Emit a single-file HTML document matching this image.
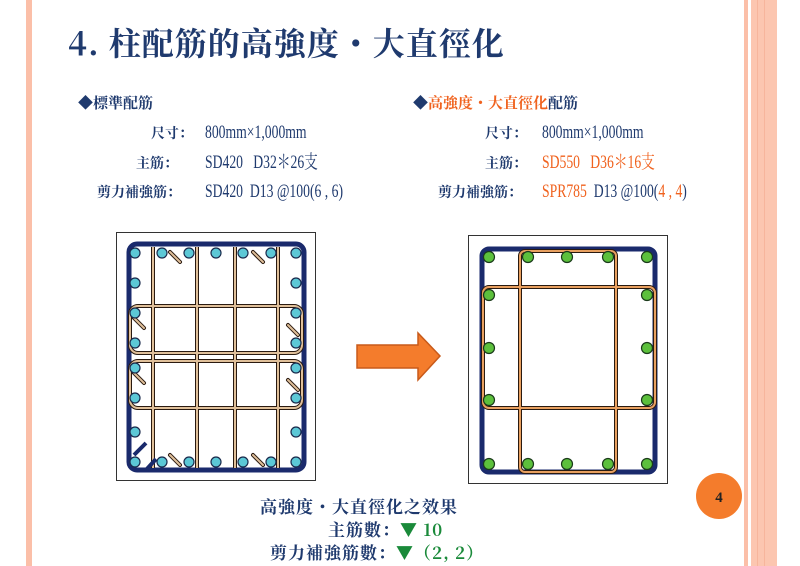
<!DOCTYPE html>
<html><head><meta charset="utf-8"><style>
body{margin:0;width:800px;height:566px;background:#fff;position:relative;overflow:hidden;font-family:"Liberation Serif","Noto Serif CJK SC","Noto Sans CJK TC",serif;color:#1f3a6e}
.a{position:absolute;white-space:nowrap;line-height:22px}
.b{font-weight:bold}
.o{color:#f0621e}
.g{color:#1a8a3a}
.n{display:inline-block;transform:scaleX(0.72);transform-origin:left}
.l{font-size:14px;font-weight:bold;font-family:"Noto Serif CJK SC",serif}
</style></head><body>
<div class="a" style="left:26px;top:0;width:6px;height:566px;background:#fbbfa8"></div>
<div class="a" style="left:744px;top:0;width:4px;height:566px;background:#fbbfa8"></div>
<div class="a" style="left:751px;top:0;width:26px;height:566px;background:#fcc6b0"></div>
<div class="a" style="left:757px;top:0;width:1px;height:566px;background:#f7b59c"></div>
<div class="a" style="left:764px;top:0;width:1px;height:566px;background:#f7b59c"></div>

<div class="a b" style="left:68px;top:24px;line-height:36px;font-size:32px;font-family:'Noto Serif CJK SC',serif;letter-spacing:1px">4. 柱配筋的高強度・大直徑化</div>

<div class="a b" style="left:78px;top:92px;font-size:15px;font-family:'Noto Serif CJK SC',serif">◆標準配筋</div>
<div class="a l" style="left:151px;top:122px">尺寸：</div>
<div class="a l" style="left:136px;top:152px">主筋：</div>
<div class="a l" style="left:97px;top:181px">剪力補強筋：</div>
<div class="a" style="left:205px;top:122px;font-size:19px"><span class="n">800mm×1,000mm</span></div>
<div class="a" style="left:205px;top:152px;font-size:19px"><span class="n">SD420 &nbsp;&nbsp;D32＊26支</span></div>
<div class="a" style="left:205px;top:181px;font-size:19px"><span class="n">SD420 &nbsp;D13 @100(6 , 6)</span></div>

<div class="a b" style="left:413px;top:92px;font-size:15px;font-family:'Noto Serif CJK SC',serif">◆<span class="o">高強度・大直徑化</span>配筋</div>
<div class="a l" style="left:485px;top:122px">尺寸：</div>
<div class="a l" style="left:485px;top:152px">主筋：</div>
<div class="a l" style="left:438px;top:181px">剪力補強筋：</div>
<div class="a" style="left:542px;top:122px;font-size:19px"><span class="n">800mm×1,000mm</span></div>
<div class="a o" style="left:542px;top:152px;font-size:19px"><span class="n">SD550 &nbsp;&nbsp;D36＊16支</span></div>
<div class="a" style="left:542px;top:181px;font-size:19px"><span class="n"><span class="o">SPR785</span> &nbsp;D13 @100(<span class="o">4 , 4</span>)</span></div>

<svg class="a" style="left:0;top:0" width="800" height="566">
<rect x="116.5" y="232.5" width="199" height="248" fill="#fff" stroke="#333" stroke-width="1"/>
<rect x="129" y="244" width="175" height="226" rx="8" fill="none" stroke="#1a2a6c" stroke-width="5"/>
<g fill="none">
<g stroke="#2a1a10" stroke-width="4">
<line x1="153" y1="247" x2="153" y2="468"/><line x1="197" y1="247" x2="197" y2="468"/>
<line x1="235" y1="247" x2="235" y2="468"/><line x1="278" y1="247" x2="278" y2="468"/>
<rect x="130" y="306" width="172" height="47" rx="8"/><rect x="130" y="361" width="172" height="47" rx="8"/>
</g>
<g stroke="#e0c09a" stroke-width="2">
<line x1="153" y1="247" x2="153" y2="468"/><line x1="197" y1="247" x2="197" y2="468"/>
<line x1="235" y1="247" x2="235" y2="468"/><line x1="278" y1="247" x2="278" y2="468"/>
<rect x="130" y="306" width="172" height="47" rx="8"/><rect x="130" y="361" width="172" height="47" rx="8"/>
</g>
<g stroke="#2a1a10" stroke-width="4" stroke-linecap="round">
<line x1="170" y1="252" x2="180" y2="262"/><line x1="253" y1="252" x2="263" y2="262"/>
<line x1="134" y1="318" x2="144" y2="328"/><line x1="134" y1="373" x2="144" y2="383"/>
<line x1="288" y1="325" x2="298" y2="335"/><line x1="288" y1="380" x2="298" y2="390"/>
<line x1="170" y1="455" x2="180" y2="465"/><line x1="253" y1="455" x2="263" y2="465"/>
</g>
<g stroke="#e0c09a" stroke-width="2" stroke-linecap="round">
<line x1="170" y1="252" x2="180" y2="262"/><line x1="253" y1="252" x2="263" y2="262"/>
<line x1="134" y1="318" x2="144" y2="328"/><line x1="134" y1="373" x2="144" y2="383"/>
<line x1="288" y1="325" x2="298" y2="335"/><line x1="288" y1="380" x2="298" y2="390"/>
<line x1="170" y1="455" x2="180" y2="465"/><line x1="253" y1="455" x2="263" y2="465"/>
</g>
<line x1="134" y1="455" x2="146" y2="443" stroke="#1a2a6c" stroke-width="4"/>
<line x1="146" y1="470" x2="156" y2="459" stroke="#1a2a6c" stroke-width="4"/>
</g>
<g fill="#5cc8d6" stroke="#1a2a4c" stroke-width="1.2">
<circle cx="135" cy="253" r="5"/><circle cx="162" cy="253" r="5"/><circle cx="189" cy="253" r="5"/><circle cx="216" cy="253" r="5"/><circle cx="243" cy="253" r="5"/><circle cx="271" cy="253" r="5"/><circle cx="296" cy="253" r="5"/>
<circle cx="135" cy="462" r="5"/><circle cx="162" cy="462" r="5"/><circle cx="189" cy="462" r="5"/><circle cx="216" cy="462" r="5"/><circle cx="243" cy="462" r="5"/><circle cx="271" cy="462" r="5"/><circle cx="296" cy="462" r="5"/>
<circle cx="135" cy="283" r="5"/><circle cx="135" cy="313" r="5"/><circle cx="135" cy="343" r="5"/><circle cx="135" cy="368" r="5"/><circle cx="135" cy="398" r="5"/><circle cx="135" cy="432" r="5"/>
<circle cx="296" cy="283" r="5"/><circle cx="296" cy="313" r="5"/><circle cx="296" cy="343" r="5"/><circle cx="296" cy="368" r="5"/><circle cx="296" cy="398" r="5"/><circle cx="296" cy="432" r="5"/>
</g>

<polygon points="357,345 418,345 418,333 440,356 418,380 418,368 357,368" fill="#f47c2c" stroke="#c85a1a" stroke-width="1.5"/>

<rect x="468.5" y="235.5" width="199" height="248" fill="#fff" stroke="#333" stroke-width="1"/>
<rect x="482" y="249" width="173" height="223" rx="7" fill="none" stroke="#1a2a6c" stroke-width="5"/>
<g fill="none" stroke="#2a1a10" stroke-width="4">
<rect x="520" y="251" width="96" height="221" rx="5"/><rect x="483" y="287" width="172" height="121" rx="6"/>
</g>
<g fill="none" stroke="#e8a060" stroke-width="2">
<rect x="520" y="251" width="96" height="221" rx="5"/><rect x="483" y="287" width="172" height="121" rx="6"/>
</g>
<g fill="#5cc03c" stroke="#1a3a1a" stroke-width="1.2">
<circle cx="489" cy="257" r="5.5"/><circle cx="528" cy="257" r="5.5"/><circle cx="567" cy="257" r="5.5"/><circle cx="608" cy="257" r="5.5"/><circle cx="647" cy="257" r="5.5"/>
<circle cx="489" cy="464" r="5.5"/><circle cx="528" cy="464" r="5.5"/><circle cx="567" cy="464" r="5.5"/><circle cx="608" cy="464" r="5.5"/><circle cx="647" cy="464" r="5.5"/>
<circle cx="489" cy="295" r="5.5"/><circle cx="489" cy="348" r="5.5"/><circle cx="489" cy="400" r="5.5"/>
<circle cx="647" cy="295" r="5.5"/><circle cx="647" cy="348" r="5.5"/><circle cx="647" cy="400" r="5.5"/>
</g>
<circle cx="719" cy="496" r="23" fill="#f47c2c"/>
<text x="719" y="502" font-size="15" font-weight="bold" text-anchor="middle" fill="#222" font-family="Liberation Serif,serif">4</text>
</svg>

<div class="a b" style="left:260px;top:495px;font-size:17px;letter-spacing:1px;font-family:'Noto Serif CJK SC',serif">高強度・大直徑化之效果</div>
<div class="a b" style="left:328px;top:518px;font-size:17px;letter-spacing:1px;font-family:'Noto Serif CJK SC',serif">主筋數：<span class="g">▼ 10</span></div>
<div class="a b" style="left:270px;top:541px;font-size:17px;letter-spacing:1px;font-family:'Noto Serif CJK SC',serif">剪力補強筋數：<span class="g">▼（2, 2）</span></div>
</body></html>
